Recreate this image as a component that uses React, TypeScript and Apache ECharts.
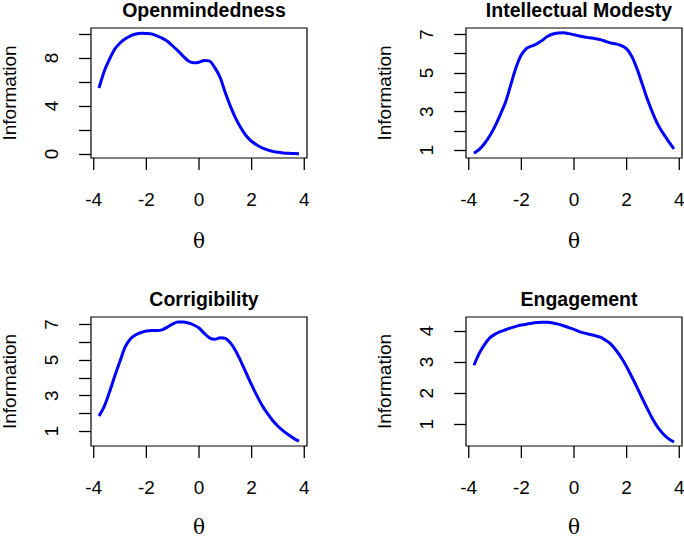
import React, { useEffect, useRef } from "react";
import * as echarts from "echarts";

const theta = [
  -3.8, -3.6, -3.4, -3.2, -3.0, -2.8, -2.6, -2.4, -2.2, -2.0, -1.8, -1.6, -1.4, -1.2, -1.0, -0.8, -0.6, -0.4, -0.2, 0.0,
  0.2, 0.4, 0.6, 0.8, 1.0, 1.2, 1.4, 1.6, 1.8, 2.0, 2.2, 2.4, 2.6, 2.8, 3.0, 3.2, 3.4, 3.6, 3.8,
];

const openmindedness = [
  5.5, 6.9, 7.9, 8.75, 9.25, 9.6, 9.85, 10.0, 10.07, 10.05, 10.0, 9.85, 9.65, 9.4, 9.0, 8.6, 8.15, 7.75, 7.6, 7.65,
  7.8, 7.75, 7.2, 6.4, 5.1, 3.95, 2.95, 2.15, 1.5, 1.05, 0.75, 0.52, 0.35, 0.22, 0.14, 0.09, 0.06, 0.04, 0.03,
];

const intellectualModesty = [
  0.85, 1.05, 1.35, 1.75, 2.25, 2.85, 3.5, 4.4, 5.3, 5.95, 6.28, 6.4, 6.52, 6.7, 6.9, 7.02, 7.07, 7.08, 7.04, 6.98,
  6.92, 6.86, 6.82, 6.78, 6.73, 6.64, 6.55, 6.5, 6.42, 6.25, 5.85, 5.2, 4.4, 3.6, 2.9, 2.3, 1.85, 1.45, 1.07,
];

const corrigibility = [
  1.85, 2.4, 3.2, 4.1, 4.95, 5.75, 6.2, 6.42, 6.55, 6.63, 6.66, 6.66, 6.7, 6.85, 7.03, 7.14, 7.14, 7.08, 6.97, 6.8,
  6.5, 6.25, 6.17, 6.25, 6.22, 5.95, 5.5, 4.9, 4.25, 3.6, 3.0, 2.45, 2.0, 1.6, 1.28, 1.02, 0.8, 0.6, 0.44,
];

const engagement = [
  2.9, 3.28, 3.56, 3.78, 3.9, 3.98, 4.04, 4.1, 4.15, 4.19, 4.22, 4.25, 4.27, 4.28, 4.28, 4.26, 4.22, 4.17, 4.11, 4.05,
  3.98, 3.93, 3.89, 3.85, 3.8, 3.7, 3.58, 3.38, 3.14, 2.85, 2.52, 2.18, 1.82, 1.48, 1.15, 0.88, 0.68, 0.53, 0.43,
];

const titles = ["Openmindedness", "Intellectual Modesty", "Corrigibility", "Engagement"];
const xTicks = [-4, -2, 0, 2, 4];
const xRange = [-4.104, 4.104];
const yTicksList = [
  [0, 2, 4, 6, 8, 10],
  [1, 2, 3, 4, 5, 6, 7],
  [1, 2, 3, 4, 5, 6, 7],
  [1, 2, 3, 4],
];
const yLabelsList = [
  [0, 4, 8],
  [1, 3, 5, 7],
  [1, 3, 5, 7],
  [1, 2, 3, 4],
];
const yRanges = [
  [-0.33, 10.5],
  [0.6, 7.33],
  [0.17, 7.42],
  [0.3, 4.45],
];
const seriesList = [openmindedness, intellectualModesty, corrigibility, engagement];

// layout (pixels)
const boxes = [
  { left: 91, top: 28, width: 216, height: 130 },
  { left: 466, top: 28, width: 216, height: 130 },
  { left: 91, top: 317, width: 216, height: 129 },
  { left: 466, top: 317, width: 216, height: 129 },
];
const titleTops = [-5, -5, 284, 284];
const thetaGaps = [74, 74, 72, 72];
const TICK_LEN = 12;

const FONT = "Liberation Sans";

export default function App() {
  const ref = useRef<HTMLDivElement>(null);
  useEffect(() => {
    document.body.style.margin = "0";
    if (!ref.current) return;
    const chart = echarts.init(ref.current, null, { renderer: "svg" });
    const grids: any[] = [];
    const xAxes: any[] = [];
    const yAxes: any[] = [];
    const series: any[] = [];
    const title: any[] = [];
    boxes.forEach((b, i) => {
      grids.push({
        left: b.left,
        top: b.top,
        width: b.width,
        height: b.height,
        show: true,
        borderColor: "#000",
        borderWidth: 1.2,
        backgroundColor: "transparent",
        containLabel: false,
        outerBoundsMode: "none",
      });
      xAxes.push({
        gridIndex: i,
        type: "value",
        position: "bottom",
        min: xRange[0],
        max: xRange[1],
        splitLine: { show: false },
        axisLine: { show: false, onZero: false },
        axisTick: { show: false },
        axisLabel: {
          customValues: xTicks,
          margin: 32,
          fontSize: 19,
          fontFamily: FONT,
          color: "#000",
        },
        name: "θ",
        nameLocation: "middle",
        nameGap: thetaGaps[i],
        nameTextStyle: { fontSize: 20, lineHeight: 18, fontFamily: "DejaVu Serif", color: "#000" },
      });
      yAxes.push({
        gridIndex: i,
        type: "value",
        position: "left",
        min: yRanges[i][0],
        max: yRanges[i][1],
        splitLine: { show: false },
        axisLine: { show: false, onZero: false },
        axisTick: {
          show: true,
          inside: false,
          length: TICK_LEN,
          customValues: yTicksList[i],
          lineStyle: { color: "#000", width: 1.3 },
        },
        axisLabel: {
          customValues: yLabelsList[i],
          rotate: 90,
          margin: 30,
          fontSize: 19,
          fontFamily: FONT,
          color: "#000",
        },
        name: "Information",
        nameLocation: "middle",
        nameRotate: 90,
        nameGap: 72,
        nameTextStyle: { fontSize: 19, fontFamily: FONT, color: "#000" },
      });
      series.push({
        type: "line",
        xAxisIndex: i,
        yAxisIndex: i,
        data: theta.map((t, k) => [t, seriesList[i][k]]),
        smooth: 0.3,
        showSymbol: false,
        symbol: "none",
        lineStyle: { color: "#0000FF", width: 3 },
      });
      title.push({
        text: titles[i],
        left: b.left + b.width / 2,
        top: titleTops[i],
        textAlign: "center",
        textStyle: { fontSize: 19.5, fontWeight: "bold", fontFamily: FONT, color: "#000" },
      });
    });
    chart.setOption({
      animation: false,
      backgroundColor: "#fff",
      title,
      grid: grids,
      xAxis: xAxes,
      yAxis: yAxes,
      series,
    });
    // x-axis tick marks placed through the chart's own scales
    const graphic: any[] = [];
    boxes.forEach((b, i) => {
      xTicks.forEach((v) => {
        const p = chart.convertToPixel({ gridIndex: i }, [v, yRanges[i][0]]) as number[];
        if (!p) return;
        graphic.push({
          type: "line",
          silent: true,
          shape: { x1: p[0], y1: p[1], x2: p[0], y2: p[1] + TICK_LEN },
          style: { stroke: "#000", lineWidth: 1.3 },
        });
      });
    });
    chart.setOption({ graphic });
    return () => chart.dispose();
  }, []);
  return <div ref={ref} style={{ width: 684, height: 538 }} />;
}
